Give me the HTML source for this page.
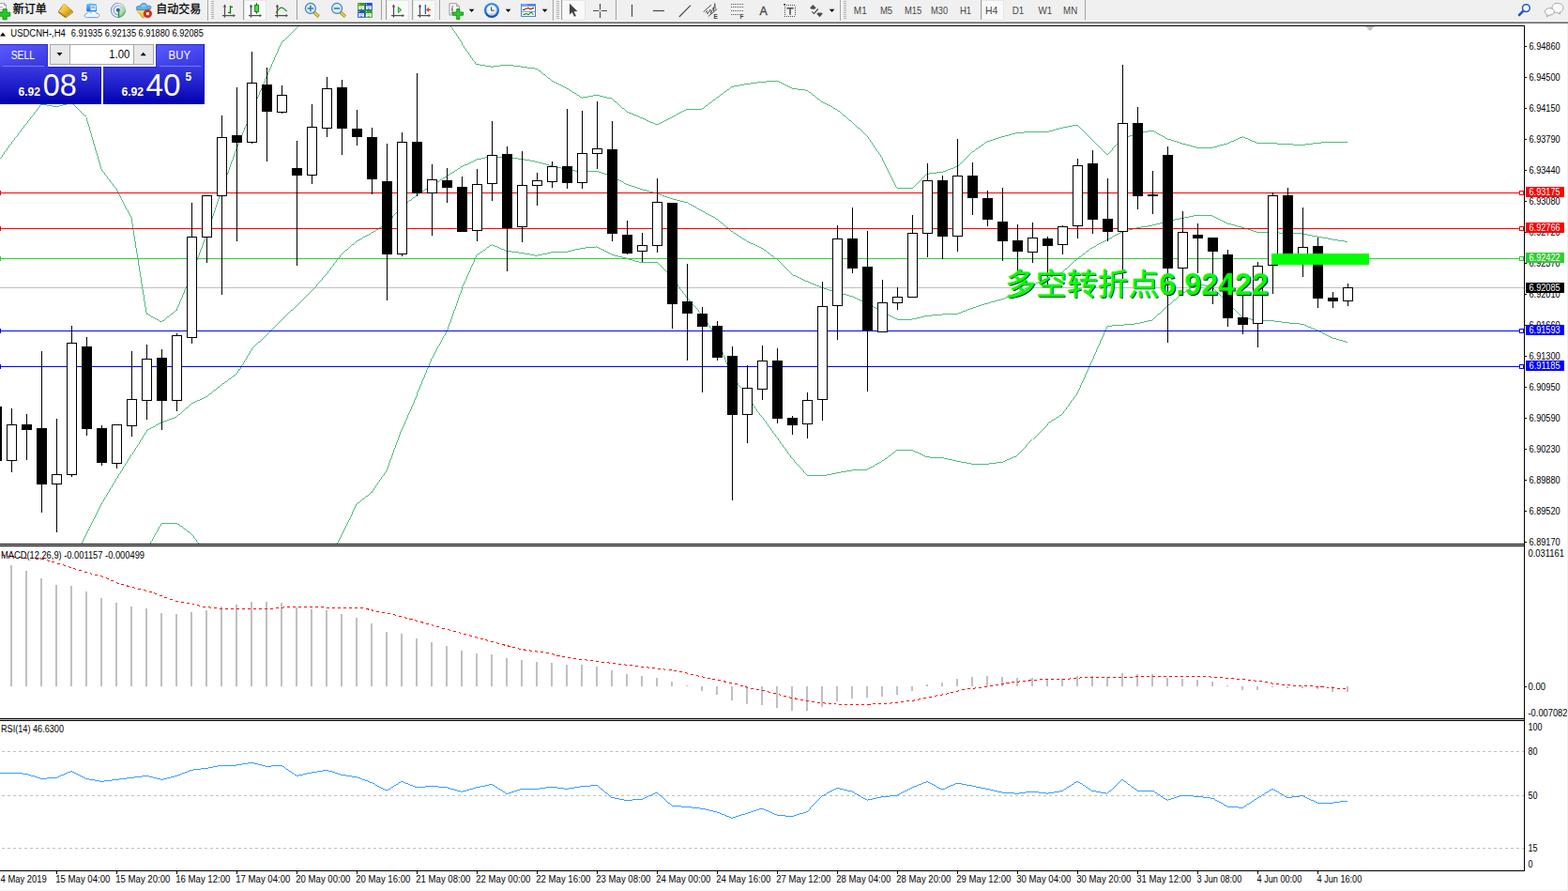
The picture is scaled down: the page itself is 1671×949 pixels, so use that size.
<!DOCTYPE html><html><head><meta charset="utf-8"><title>chart</title><style>
html,body{margin:0;padding:0;background:#fff}
body{width:1671px;height:949px;overflow:hidden;position:relative;font-family:"Liberation Sans",sans-serif}
#tb{position:absolute;left:0;top:0;width:1671px;height:25px;background:linear-gradient(#f0f0f0 0,#f0f0f0 22px,#f7f7f7 22px,#f7f7f7 23px,#a0a0a0 23px,#a0a0a0 24px,#696969 24px,#696969 25px)}
#re{position:absolute;left:1670px;top:25px;width:1px;height:924px;background:#f0f0f0}
#be{position:absolute;left:0;top:948px;width:1671px;height:1px;background:#f0f0f0}

</style></head><body>
<div id="tb"></div>
<svg id="chart" width="1671" height="949" viewBox="0 0 1671 949" style="position:absolute;left:0;top:0">
<defs><clipPath id="cm"><rect x="0" y="28" width="1624" height="551"/></clipPath><clipPath id="c2"><rect x="0" y="582" width="1624" height="183"/></clipPath><clipPath id="c3"><rect x="0" y="768" width="1624" height="159"/></clipPath></defs>
<g shape-rendering="crispEdges" fill="#000">
<rect x="0" y="27" width="1625" height="1"/>
<rect x="1624" y="27" width="1" height="901"/>
<rect x="0" y="579" width="1625" height="1"/>
<rect x="0" y="581" width="1625" height="1"/>
<rect x="0" y="765" width="1625" height="1"/>
<rect x="0" y="767" width="1625" height="1"/>
<rect x="0" y="927" width="1625" height="1"/>
</g>
<g shape-rendering="crispEdges" fill="#c8c8c8"><rect x="0" y="580" width="1624" height="1"/><rect x="0" y="766" width="1624" height="1"/></g>
<g clip-path="url(#cm)">
<rect x="0" y="306" width="1624" height="1" fill="#c0c0c0" shape-rendering="crispEdges"/>
<polyline points="-3.5,175.0 12.5,152.4 28.5,131.8 44.5,111.0 60.5,113.8 76.5,109.5 92.5,124.5 108.5,179.5 124.5,200.9 140.5,232.6 156.5,334.0 172.5,342.9 188.5,330.5 204.5,292.6 220.5,250.3 236.5,202.8 252.5,158.3 268.5,119.0 284.5,81.7 300.5,45.3 316.5,30.2 332.5,10.0 348.5,-20.0 364.5,-20.0 380.5,-20.0 396.5,-20.0 412.5,-20.0 428.5,-20.0 444.5,-20.0 460.5,-5.0 476.5,21.5 492.5,45.5 508.5,68.5 524.5,71.2 540.5,69.1 556.5,71.2 572.5,73.3 588.5,85.9 604.5,93.9 620.5,104.2 636.5,101.3 652.5,105.1 668.5,119.0 684.5,125.8 700.5,133.1 716.5,124.9 732.5,116.3 748.5,116.3 764.5,104.2 780.5,92.4 796.5,89.5 812.5,87.4 828.5,86.2 844.5,94.2 860.5,96.3 876.5,108.6 892.5,116.9 908.5,130.2 924.5,144.9 940.5,168.5 956.5,200.1 972.5,200.4 988.5,185.3 1004.5,183.3 1020.5,177.4 1036.5,162.0 1052.5,150.8 1068.5,145.8 1084.5,141.4 1100.5,140.5 1116.5,140.5 1132.5,136.1 1148.5,133.1 1164.5,149.3 1180.5,164.7 1196.5,147.9 1212.5,142.0 1228.5,139.0 1244.5,147.9 1260.5,152.9 1276.5,157.3 1292.5,157.3 1308.5,152.9 1324.5,145.8 1340.5,152.3 1356.5,152.6 1372.5,153.8 1388.5,154.4 1404.5,152.3 1420.5,151.1 1436.5,151.1" fill="none" stroke="#3cb371" stroke-width="0.9" shape-rendering="crispEdges" transform="translate(-0.4,0)" />
<polyline points="76.5,600.8 92.5,568.8 108.5,536.8 124.5,510.2 140.5,484.3 156.5,458.5 172.5,450.0 188.5,444.1 204.5,430.0 220.5,422.5 236.5,410.0 252.5,398.2 268.5,371.5 284.5,357.4 300.5,341.2 316.5,325.5 332.5,310.4 348.5,291.7 364.5,270.8 380.5,257.0 396.5,248.2 412.5,238.0 428.5,220.6 444.5,208.0 460.5,197.6 476.5,187.8 492.5,177.6 508.5,170.0 524.5,166.5 540.5,167.9 556.5,169.4 572.5,172.4 588.5,176.8 604.5,180.3 620.5,183.3 636.5,182.4 652.5,187.7 668.5,196.5 684.5,201.8 700.5,206.0 716.5,211.9 732.5,215.7 748.5,224.6 764.5,233.4 780.5,246.7 796.5,257.0 812.5,264.4 828.5,276.2 844.5,292.4 860.5,299.8 876.5,306.4 892.5,311.4 908.5,315.8 924.5,323.2 940.5,332.0 956.5,340.0 972.5,340.0 988.5,336.4 1004.5,335.0 1020.5,334.4 1036.5,328.2 1052.5,323.2 1068.5,318.7 1084.5,312.0 1100.5,303.8 1116.5,296.3 1132.5,290.0 1148.5,275.6 1164.5,263.8 1180.5,255.4 1196.5,246.8 1212.5,242.7 1228.5,240.1 1244.5,235.8 1260.5,232.3 1276.5,229.1 1292.5,230.0 1308.5,238.0 1324.5,242.3 1340.5,247.2 1356.5,247.4 1372.5,248.9 1388.5,249.0 1404.5,252.1 1420.5,255.0 1436.5,257.5" fill="none" stroke="#3cb371" stroke-width="0.9" shape-rendering="crispEdges" transform="translate(-0.4,0)" />
<polyline points="156.5,586.0 172.5,557.6 188.5,557.0 204.5,568.8 220.5,590.0 236.5,620.0 252.5,640.0 268.5,640.0 284.5,640.0 300.5,640.0 316.5,640.0 332.5,640.0 348.5,603.0 364.5,570.0 380.5,537.0 396.5,524.5 412.5,501.0 428.5,457.4 444.5,420.5 460.5,382.2 476.5,352.7 492.5,307.5 508.5,271.8 524.5,260.8 540.5,267.3 556.5,269.4 572.5,272.3 588.5,268.8 604.5,268.2 620.5,264.4 636.5,262.9 652.5,271.2 668.5,275.3 684.5,280.0 700.5,279.1 716.5,295.3 732.5,317.3 748.5,335.0 764.5,360.0 780.5,401.3 796.5,420.5 812.5,444.0 828.5,466.2 844.5,488.3 860.5,506.0 876.5,506.9 892.5,503.7 908.5,501.0 924.5,500.1 940.5,491.3 956.5,479.5 972.5,479.5 988.5,486.9 1004.5,487.5 1020.5,491.3 1036.5,494.2 1052.5,494.2 1068.5,492.2 1084.5,485.4 1100.5,467.7 1116.5,451.5 1132.5,441.1 1148.5,419.0 1164.5,383.6 1180.5,347.4 1196.5,346.2 1212.5,344.7 1228.5,340.9 1244.5,326.1 1260.5,312.8 1276.5,302.3 1292.5,305.7 1308.5,321.7 1324.5,337.8 1340.5,341.8 1356.5,341.8 1372.5,343.8 1388.5,345.3 1404.5,352.1 1420.5,360.0 1436.5,364.5" fill="none" stroke="#3cb371" stroke-width="0.9" shape-rendering="crispEdges" transform="translate(-0.4,0)" />
<g shape-rendering="crispEdges">
<rect x="0" y="205" width="1624" height="1" fill="#ff0000"/>
<rect x="0" y="203" width="1" height="5" fill="#ff0000"/>
<rect x="0" y="243" width="1624" height="1" fill="#ff0000"/>
<rect x="0" y="241" width="1" height="5" fill="#ff0000"/>
<rect x="0" y="275" width="1624" height="1" fill="#32cd32"/>
<rect x="0" y="273" width="1" height="5" fill="#32cd32"/>
<rect x="0" y="352" width="1624" height="1" fill="#0000ff"/>
<rect x="0" y="350" width="1" height="5" fill="#0000ff"/>
<rect x="0" y="390" width="1624" height="1" fill="#0000ff"/>
<rect x="0" y="388" width="1" height="5" fill="#0000ff"/>
</g>
<g shape-rendering="crispEdges">
<rect x="-4" y="433" width="1" height="58" fill="#000"/>
<rect x="-9" y="433" width="11" height="58" fill="#000"/>
<rect x="12" y="435" width="1" height="68" fill="#000"/>
<rect x="7" y="452" width="11" height="39" fill="#000"/>
<rect x="8" y="453" width="9" height="37" fill="#fff"/>
<rect x="28" y="441" width="1" height="49" fill="#000"/>
<rect x="23" y="452" width="11" height="6" fill="#000"/>
<rect x="44" y="374" width="1" height="172" fill="#000"/>
<rect x="39" y="456" width="11" height="60" fill="#000"/>
<rect x="60" y="446" width="1" height="121" fill="#000"/>
<rect x="55" y="505" width="11" height="11" fill="#000"/>
<rect x="56" y="506" width="9" height="9" fill="#fff"/>
<rect x="76" y="347" width="1" height="161" fill="#000"/>
<rect x="71" y="365" width="11" height="141" fill="#000"/>
<rect x="72" y="366" width="9" height="139" fill="#fff"/>
<rect x="92" y="359" width="1" height="105" fill="#000"/>
<rect x="87" y="369" width="11" height="88" fill="#000"/>
<rect x="108" y="453" width="1" height="43" fill="#000"/>
<rect x="103" y="456" width="11" height="37" fill="#000"/>
<rect x="124" y="452" width="1" height="47" fill="#000"/>
<rect x="119" y="452" width="11" height="42" fill="#000"/>
<rect x="120" y="453" width="9" height="40" fill="#fff"/>
<rect x="140" y="374" width="1" height="91" fill="#000"/>
<rect x="135" y="425" width="11" height="29" fill="#000"/>
<rect x="136" y="426" width="9" height="27" fill="#fff"/>
<rect x="156" y="367" width="1" height="80" fill="#000"/>
<rect x="151" y="382" width="11" height="45" fill="#000"/>
<rect x="152" y="383" width="9" height="43" fill="#fff"/>
<rect x="172" y="372" width="1" height="86" fill="#000"/>
<rect x="167" y="381" width="11" height="46" fill="#000"/>
<rect x="188" y="355" width="1" height="83" fill="#000"/>
<rect x="183" y="357" width="11" height="70" fill="#000"/>
<rect x="184" y="358" width="9" height="68" fill="#fff"/>
<rect x="204" y="216" width="1" height="150" fill="#000"/>
<rect x="199" y="252" width="11" height="108" fill="#000"/>
<rect x="200" y="253" width="9" height="106" fill="#fff"/>
<rect x="220" y="208" width="1" height="72" fill="#000"/>
<rect x="215" y="208" width="11" height="45" fill="#000"/>
<rect x="216" y="209" width="9" height="43" fill="#fff"/>
<rect x="236" y="123" width="1" height="191" fill="#000"/>
<rect x="231" y="146" width="11" height="63" fill="#000"/>
<rect x="232" y="147" width="9" height="61" fill="#fff"/>
<rect x="252" y="93" width="1" height="164" fill="#000"/>
<rect x="247" y="144" width="11" height="8" fill="#000"/>
<rect x="268" y="55" width="1" height="98" fill="#000"/>
<rect x="263" y="88" width="11" height="64" fill="#000"/>
<rect x="264" y="89" width="9" height="62" fill="#fff"/>
<rect x="284" y="72" width="1" height="100" fill="#000"/>
<rect x="279" y="90" width="11" height="29" fill="#000"/>
<rect x="300" y="91" width="1" height="30" fill="#000"/>
<rect x="295" y="101" width="11" height="19" fill="#000"/>
<rect x="296" y="102" width="9" height="17" fill="#fff"/>
<rect x="316" y="150" width="1" height="133" fill="#000"/>
<rect x="311" y="179" width="11" height="8" fill="#000"/>
<rect x="332" y="111" width="1" height="85" fill="#000"/>
<rect x="327" y="135" width="11" height="52" fill="#000"/>
<rect x="328" y="136" width="9" height="50" fill="#fff"/>
<rect x="348" y="82" width="1" height="64" fill="#000"/>
<rect x="343" y="94" width="11" height="43" fill="#000"/>
<rect x="344" y="95" width="9" height="41" fill="#fff"/>
<rect x="364" y="85" width="1" height="80" fill="#000"/>
<rect x="359" y="93" width="11" height="44" fill="#000"/>
<rect x="380" y="117" width="1" height="38" fill="#000"/>
<rect x="375" y="137" width="11" height="9" fill="#000"/>
<rect x="396" y="136" width="1" height="71" fill="#000"/>
<rect x="391" y="146" width="11" height="45" fill="#000"/>
<rect x="412" y="153" width="1" height="167" fill="#000"/>
<rect x="407" y="193" width="11" height="78" fill="#000"/>
<rect x="428" y="141" width="1" height="132" fill="#000"/>
<rect x="423" y="151" width="11" height="120" fill="#000"/>
<rect x="424" y="152" width="9" height="118" fill="#fff"/>
<rect x="444" y="78" width="1" height="131" fill="#000"/>
<rect x="439" y="151" width="11" height="55" fill="#000"/>
<rect x="460" y="175" width="1" height="76" fill="#000"/>
<rect x="455" y="191" width="11" height="15" fill="#000"/>
<rect x="456" y="192" width="9" height="13" fill="#fff"/>
<rect x="476" y="179" width="1" height="37" fill="#000"/>
<rect x="471" y="192" width="11" height="8" fill="#000"/>
<rect x="492" y="188" width="1" height="59" fill="#000"/>
<rect x="487" y="199" width="11" height="48" fill="#000"/>
<rect x="508" y="180" width="1" height="77" fill="#000"/>
<rect x="503" y="196" width="11" height="50" fill="#000"/>
<rect x="504" y="197" width="9" height="48" fill="#fff"/>
<rect x="524" y="129" width="1" height="85" fill="#000"/>
<rect x="519" y="165" width="11" height="31" fill="#000"/>
<rect x="520" y="166" width="9" height="29" fill="#fff"/>
<rect x="540" y="156" width="1" height="133" fill="#000"/>
<rect x="535" y="164" width="11" height="79" fill="#000"/>
<rect x="556" y="161" width="1" height="97" fill="#000"/>
<rect x="551" y="197" width="11" height="45" fill="#000"/>
<rect x="552" y="198" width="9" height="43" fill="#fff"/>
<rect x="572" y="184" width="1" height="35" fill="#000"/>
<rect x="567" y="192" width="11" height="6" fill="#000"/>
<rect x="568" y="193" width="9" height="4" fill="#fff"/>
<rect x="588" y="172" width="1" height="28" fill="#000"/>
<rect x="583" y="177" width="11" height="17" fill="#000"/>
<rect x="584" y="178" width="9" height="15" fill="#fff"/>
<rect x="604" y="116" width="1" height="85" fill="#000"/>
<rect x="599" y="177" width="11" height="18" fill="#000"/>
<rect x="620" y="118" width="1" height="83" fill="#000"/>
<rect x="615" y="163" width="11" height="32" fill="#000"/>
<rect x="616" y="164" width="9" height="30" fill="#fff"/>
<rect x="636" y="108" width="1" height="72" fill="#000"/>
<rect x="631" y="158" width="11" height="6" fill="#000"/>
<rect x="632" y="159" width="9" height="4" fill="#fff"/>
<rect x="652" y="129" width="1" height="128" fill="#000"/>
<rect x="647" y="159" width="11" height="90" fill="#000"/>
<rect x="668" y="235" width="1" height="36" fill="#000"/>
<rect x="663" y="250" width="11" height="20" fill="#000"/>
<rect x="684" y="248" width="1" height="31" fill="#000"/>
<rect x="679" y="261" width="11" height="7" fill="#000"/>
<rect x="680" y="262" width="9" height="5" fill="#fff"/>
<rect x="700" y="190" width="1" height="79" fill="#000"/>
<rect x="695" y="215" width="11" height="47" fill="#000"/>
<rect x="696" y="216" width="9" height="45" fill="#fff"/>
<rect x="716" y="216" width="1" height="134" fill="#000"/>
<rect x="711" y="216" width="11" height="108" fill="#000"/>
<rect x="732" y="281" width="1" height="103" fill="#000"/>
<rect x="727" y="321" width="11" height="13" fill="#000"/>
<rect x="748" y="327" width="1" height="91" fill="#000"/>
<rect x="743" y="334" width="11" height="14" fill="#000"/>
<rect x="764" y="342" width="1" height="42" fill="#000"/>
<rect x="759" y="347" width="11" height="34" fill="#000"/>
<rect x="780" y="369" width="1" height="164" fill="#000"/>
<rect x="775" y="379" width="11" height="63" fill="#000"/>
<rect x="796" y="389" width="1" height="83" fill="#000"/>
<rect x="791" y="413" width="11" height="29" fill="#000"/>
<rect x="792" y="414" width="9" height="27" fill="#fff"/>
<rect x="812" y="368" width="1" height="58" fill="#000"/>
<rect x="807" y="384" width="11" height="31" fill="#000"/>
<rect x="808" y="385" width="9" height="29" fill="#fff"/>
<rect x="828" y="371" width="1" height="80" fill="#000"/>
<rect x="823" y="384" width="11" height="62" fill="#000"/>
<rect x="844" y="443" width="1" height="20" fill="#000"/>
<rect x="839" y="445" width="11" height="8" fill="#000"/>
<rect x="860" y="418" width="1" height="49" fill="#000"/>
<rect x="855" y="426" width="11" height="26" fill="#000"/>
<rect x="856" y="427" width="9" height="24" fill="#fff"/>
<rect x="876" y="300" width="1" height="148" fill="#000"/>
<rect x="871" y="326" width="11" height="100" fill="#000"/>
<rect x="872" y="327" width="9" height="98" fill="#fff"/>
<rect x="892" y="240" width="1" height="122" fill="#000"/>
<rect x="887" y="254" width="11" height="72" fill="#000"/>
<rect x="888" y="255" width="9" height="70" fill="#fff"/>
<rect x="908" y="221" width="1" height="70" fill="#000"/>
<rect x="903" y="254" width="11" height="32" fill="#000"/>
<rect x="924" y="246" width="1" height="171" fill="#000"/>
<rect x="919" y="284" width="11" height="68" fill="#000"/>
<rect x="940" y="298" width="1" height="56" fill="#000"/>
<rect x="935" y="322" width="11" height="32" fill="#000"/>
<rect x="936" y="323" width="9" height="30" fill="#fff"/>
<rect x="956" y="306" width="1" height="24" fill="#000"/>
<rect x="951" y="316" width="11" height="7" fill="#000"/>
<rect x="952" y="317" width="9" height="5" fill="#fff"/>
<rect x="972" y="229" width="1" height="88" fill="#000"/>
<rect x="967" y="248" width="11" height="69" fill="#000"/>
<rect x="968" y="249" width="9" height="67" fill="#fff"/>
<rect x="988" y="174" width="1" height="100" fill="#000"/>
<rect x="983" y="192" width="11" height="57" fill="#000"/>
<rect x="984" y="193" width="9" height="55" fill="#fff"/>
<rect x="1004" y="187" width="1" height="89" fill="#000"/>
<rect x="999" y="192" width="11" height="60" fill="#000"/>
<rect x="1020" y="148" width="1" height="120" fill="#000"/>
<rect x="1015" y="187" width="11" height="65" fill="#000"/>
<rect x="1016" y="188" width="9" height="63" fill="#fff"/>
<rect x="1036" y="173" width="1" height="56" fill="#000"/>
<rect x="1031" y="187" width="11" height="24" fill="#000"/>
<rect x="1052" y="203" width="1" height="38" fill="#000"/>
<rect x="1047" y="211" width="11" height="23" fill="#000"/>
<rect x="1068" y="200" width="1" height="78" fill="#000"/>
<rect x="1063" y="236" width="11" height="21" fill="#000"/>
<rect x="1084" y="239" width="1" height="53" fill="#000"/>
<rect x="1079" y="256" width="11" height="12" fill="#000"/>
<rect x="1100" y="237" width="1" height="43" fill="#000"/>
<rect x="1095" y="253" width="11" height="16" fill="#000"/>
<rect x="1096" y="254" width="9" height="14" fill="#fff"/>
<rect x="1116" y="252" width="1" height="52" fill="#000"/>
<rect x="1111" y="254" width="11" height="8" fill="#000"/>
<rect x="1132" y="240" width="1" height="31" fill="#000"/>
<rect x="1127" y="241" width="11" height="20" fill="#000"/>
<rect x="1128" y="242" width="9" height="18" fill="#fff"/>
<rect x="1148" y="169" width="1" height="85" fill="#000"/>
<rect x="1143" y="176" width="11" height="65" fill="#000"/>
<rect x="1144" y="177" width="9" height="63" fill="#fff"/>
<rect x="1164" y="160" width="1" height="89" fill="#000"/>
<rect x="1159" y="174" width="11" height="60" fill="#000"/>
<rect x="1180" y="190" width="1" height="67" fill="#000"/>
<rect x="1175" y="233" width="11" height="14" fill="#000"/>
<rect x="1196" y="69" width="1" height="228" fill="#000"/>
<rect x="1191" y="131" width="11" height="116" fill="#000"/>
<rect x="1192" y="132" width="9" height="114" fill="#fff"/>
<rect x="1212" y="114" width="1" height="109" fill="#000"/>
<rect x="1207" y="131" width="11" height="78" fill="#000"/>
<rect x="1228" y="182" width="1" height="46" fill="#000"/>
<rect x="1223" y="207" width="11" height="2" fill="#000"/>
<rect x="1244" y="156" width="1" height="209" fill="#000"/>
<rect x="1239" y="165" width="11" height="121" fill="#000"/>
<rect x="1260" y="225" width="1" height="90" fill="#000"/>
<rect x="1255" y="247" width="11" height="39" fill="#000"/>
<rect x="1256" y="248" width="9" height="37" fill="#fff"/>
<rect x="1276" y="238" width="1" height="53" fill="#000"/>
<rect x="1271" y="250" width="11" height="4" fill="#000"/>
<rect x="1292" y="253" width="1" height="71" fill="#000"/>
<rect x="1287" y="253" width="11" height="15" fill="#000"/>
<rect x="1308" y="266" width="1" height="82" fill="#000"/>
<rect x="1303" y="271" width="11" height="68" fill="#000"/>
<rect x="1324" y="312" width="1" height="44" fill="#000"/>
<rect x="1319" y="338" width="11" height="8" fill="#000"/>
<rect x="1340" y="279" width="1" height="91" fill="#000"/>
<rect x="1335" y="283" width="11" height="62" fill="#000"/>
<rect x="1336" y="284" width="9" height="60" fill="#fff"/>
<rect x="1356" y="205" width="1" height="108" fill="#000"/>
<rect x="1351" y="208" width="11" height="75" fill="#000"/>
<rect x="1352" y="209" width="9" height="73" fill="#fff"/>
<rect x="1372" y="200" width="1" height="76" fill="#000"/>
<rect x="1367" y="208" width="11" height="68" fill="#000"/>
<rect x="1388" y="221" width="1" height="74" fill="#000"/>
<rect x="1383" y="263" width="11" height="15" fill="#000"/>
<rect x="1384" y="264" width="9" height="13" fill="#fff"/>
<rect x="1404" y="253" width="1" height="75" fill="#000"/>
<rect x="1399" y="262" width="11" height="56" fill="#000"/>
<rect x="1420" y="311" width="1" height="17" fill="#000"/>
<rect x="1415" y="317" width="11" height="4" fill="#000"/>
<rect x="1436" y="302" width="1" height="24" fill="#000"/>
<rect x="1431" y="306" width="11" height="15" fill="#000"/>
<rect x="1432" y="307" width="9" height="13" fill="#fff"/>
</g>
<rect x="1355" y="270" width="104" height="12" fill="#00ff00" shape-rendering="crispEdges"/>
<polygon points="1455,28 1465,28 1460,33" fill="#c0c0c0"/>
</g>
<g shape-rendering="crispEdges">
<rect x="1619.5" y="203.5" width="4" height="4" fill="#fff" stroke="#ff0000" stroke-width="1"/>
<rect x="1619.5" y="241.5" width="4" height="4" fill="#fff" stroke="#ff0000" stroke-width="1"/>
<rect x="1619.5" y="273.5" width="4" height="4" fill="#fff" stroke="#32cd32" stroke-width="1"/>
<rect x="1619.5" y="350.5" width="4" height="4" fill="#fff" stroke="#0000ff" stroke-width="1"/>
<rect x="1619.5" y="388.5" width="4" height="4" fill="#fff" stroke="#0000ff" stroke-width="1"/>
</g>
<g id="bigtext">
<text x="1071.3" y="314" font-family="Liberation Sans, Noto Sans CJK SC, sans-serif" font-size="32" textLength="164" lengthAdjust="spacingAndGlyphs" fill="#123" transform="translate(1,1)">多空转折点</text>
<text x="1235.3" y="314" font-family="Liberation Sans, sans-serif" font-weight="bold" font-size="33" textLength="116.6" lengthAdjust="spacingAndGlyphs" fill="#123" transform="translate(1,1)">6.92422</text>
<text x="1071.3" y="314" font-family="Liberation Sans, Noto Sans CJK SC, sans-serif" font-size="32" textLength="164" lengthAdjust="spacingAndGlyphs" fill="#00ff00" stroke="#00ff00" stroke-width="0.6" stroke-linejoin="round" transform="translate(0,0)">多空转折点</text>
<text x="1235.3" y="314" font-family="Liberation Sans, sans-serif" font-weight="bold" font-size="33" textLength="116.6" lengthAdjust="spacingAndGlyphs" fill="#00ff00" transform="translate(0,0)">6.92422</text>
</g>
<g font-family="Liberation Sans, sans-serif" font-size="10" fill="#000">
<rect x="1625" y="49" width="2" height="1" fill="#000" shape-rendering="crispEdges"/>
<text x="1629.5" y="53" textLength="33.2" lengthAdjust="spacingAndGlyphs">6.94860</text>
<rect x="1625" y="82" width="2" height="1" fill="#000" shape-rendering="crispEdges"/>
<text x="1629.5" y="86" textLength="33.2" lengthAdjust="spacingAndGlyphs">6.94500</text>
<rect x="1625" y="115" width="2" height="1" fill="#000" shape-rendering="crispEdges"/>
<text x="1629.5" y="119" textLength="33.2" lengthAdjust="spacingAndGlyphs">6.94150</text>
<rect x="1625" y="148" width="2" height="1" fill="#000" shape-rendering="crispEdges"/>
<text x="1629.5" y="152" textLength="33.2" lengthAdjust="spacingAndGlyphs">6.93790</text>
<rect x="1625" y="181" width="2" height="1" fill="#000" shape-rendering="crispEdges"/>
<text x="1629.5" y="185" textLength="33.2" lengthAdjust="spacingAndGlyphs">6.93440</text>
<rect x="1625" y="214" width="2" height="1" fill="#000" shape-rendering="crispEdges"/>
<text x="1629.5" y="218" textLength="33.2" lengthAdjust="spacingAndGlyphs">6.93080</text>
<rect x="1625" y="247" width="2" height="1" fill="#000" shape-rendering="crispEdges"/>
<text x="1629.5" y="251" textLength="33.2" lengthAdjust="spacingAndGlyphs">6.92720</text>
<rect x="1625" y="280" width="2" height="1" fill="#000" shape-rendering="crispEdges"/>
<text x="1629.5" y="284" textLength="33.2" lengthAdjust="spacingAndGlyphs">6.92370</text>
<rect x="1625" y="313" width="2" height="1" fill="#000" shape-rendering="crispEdges"/>
<text x="1629.5" y="317" textLength="33.2" lengthAdjust="spacingAndGlyphs">6.92010</text>
<rect x="1625" y="346" width="2" height="1" fill="#000" shape-rendering="crispEdges"/>
<text x="1629.5" y="350" textLength="33.2" lengthAdjust="spacingAndGlyphs">6.91660</text>
<rect x="1625" y="379" width="2" height="1" fill="#000" shape-rendering="crispEdges"/>
<text x="1629.5" y="383" textLength="33.2" lengthAdjust="spacingAndGlyphs">6.91300</text>
<rect x="1625" y="412" width="2" height="1" fill="#000" shape-rendering="crispEdges"/>
<text x="1629.5" y="416" textLength="33.2" lengthAdjust="spacingAndGlyphs">6.90950</text>
<rect x="1625" y="445" width="2" height="1" fill="#000" shape-rendering="crispEdges"/>
<text x="1629.5" y="449" textLength="33.2" lengthAdjust="spacingAndGlyphs">6.90590</text>
<rect x="1625" y="478" width="2" height="1" fill="#000" shape-rendering="crispEdges"/>
<text x="1629.5" y="482" textLength="33.2" lengthAdjust="spacingAndGlyphs">6.90230</text>
<rect x="1625" y="511" width="2" height="1" fill="#000" shape-rendering="crispEdges"/>
<text x="1629.5" y="515" textLength="33.2" lengthAdjust="spacingAndGlyphs">6.89880</text>
<rect x="1625" y="544" width="2" height="1" fill="#000" shape-rendering="crispEdges"/>
<text x="1629.5" y="548" textLength="33.2" lengthAdjust="spacingAndGlyphs">6.89520</text>
<rect x="1625" y="577" width="2" height="1" fill="#000" shape-rendering="crispEdges"/>
<text x="1629.5" y="581" textLength="33.2" lengthAdjust="spacingAndGlyphs">6.89170</text>
<text x="1628.5" y="593" textLength="38.5" lengthAdjust="spacingAndGlyphs">0.031161</text>
<text x="1628.5" y="735" textLength="18.5" lengthAdjust="spacingAndGlyphs">0.00</text>
<text x="1628.5" y="763" textLength="42" lengthAdjust="spacingAndGlyphs">-0.007082</text>
<rect x="1625" y="731" width="2" height="1" fill="#000" shape-rendering="crispEdges"/>
<text x="1628.5" y="778" textLength="15" lengthAdjust="spacingAndGlyphs">100</text>
<text x="1628.5" y="804" textLength="10" lengthAdjust="spacingAndGlyphs">80</text>
<text x="1628.5" y="851" textLength="10" lengthAdjust="spacingAndGlyphs">50</text>
<text x="1628.5" y="907" textLength="10" lengthAdjust="spacingAndGlyphs">15</text>
<text x="1628.5" y="924" textLength="5" lengthAdjust="spacingAndGlyphs">0</text>
</g>
<g font-family="Liberation Sans, sans-serif" font-size="10" fill="#fff">
<rect x="1626" y="199" width="41" height="11" fill="#ff0000" shape-rendering="crispEdges"/>
<text x="1629.5" y="208" textLength="33.2" lengthAdjust="spacingAndGlyphs">6.93175</text>
<rect x="1626" y="237" width="41" height="11" fill="#ff0000" shape-rendering="crispEdges"/>
<text x="1629.5" y="246" textLength="33.2" lengthAdjust="spacingAndGlyphs">6.92766</text>
<rect x="1626" y="269" width="41" height="11" fill="#32cd32" shape-rendering="crispEdges"/>
<text x="1629.5" y="278" textLength="33.2" lengthAdjust="spacingAndGlyphs">6.92422</text>
<rect x="1626" y="301" width="41" height="11" fill="#000000" shape-rendering="crispEdges"/>
<text x="1629.5" y="310" textLength="33.2" lengthAdjust="spacingAndGlyphs">6.92085</text>
<rect x="1626" y="346" width="41" height="11" fill="#0000ff" shape-rendering="crispEdges"/>
<text x="1629.5" y="355" textLength="33.2" lengthAdjust="spacingAndGlyphs">6.91593</text>
<rect x="1626" y="384" width="41" height="11" fill="#0000ff" shape-rendering="crispEdges"/>
<text x="1629.5" y="393" textLength="33.2" lengthAdjust="spacingAndGlyphs">6.91185</text>
</g>
<g clip-path="url(#c2)">
<g shape-rendering="crispEdges" fill="#c0c0c0">
<rect x="11" y="602" width="2" height="129"/>
<rect x="27" y="608" width="2" height="123"/>
<rect x="43" y="616" width="2" height="115"/>
<rect x="59" y="623" width="2" height="108"/>
<rect x="75" y="624" width="2" height="107"/>
<rect x="91" y="630" width="2" height="101"/>
<rect x="107" y="637" width="2" height="94"/>
<rect x="123" y="642" width="2" height="89"/>
<rect x="139" y="646" width="2" height="85"/>
<rect x="155" y="648" width="2" height="83"/>
<rect x="171" y="653" width="2" height="78"/>
<rect x="187" y="654" width="2" height="77"/>
<rect x="203" y="652" width="2" height="79"/>
<rect x="219" y="650" width="2" height="81"/>
<rect x="235" y="646" width="2" height="85"/>
<rect x="251" y="644" width="2" height="87"/>
<rect x="267" y="641" width="2" height="90"/>
<rect x="283" y="641" width="2" height="90"/>
<rect x="299" y="642" width="2" height="89"/>
<rect x="315" y="647" width="2" height="84"/>
<rect x="331" y="649" width="2" height="82"/>
<rect x="347" y="650" width="2" height="81"/>
<rect x="363" y="654" width="2" height="77"/>
<rect x="379" y="658" width="2" height="73"/>
<rect x="395" y="664" width="2" height="67"/>
<rect x="411" y="673" width="2" height="58"/>
<rect x="427" y="675" width="2" height="56"/>
<rect x="443" y="680" width="2" height="51"/>
<rect x="459" y="684" width="2" height="47"/>
<rect x="475" y="688" width="2" height="43"/>
<rect x="491" y="693" width="2" height="38"/>
<rect x="507" y="696" width="2" height="35"/>
<rect x="523" y="697" width="2" height="34"/>
<rect x="539" y="701" width="2" height="30"/>
<rect x="555" y="703" width="2" height="28"/>
<rect x="571" y="705" width="2" height="26"/>
<rect x="587" y="706" width="2" height="25"/>
<rect x="603" y="708" width="2" height="23"/>
<rect x="619" y="708" width="2" height="23"/>
<rect x="635" y="710" width="2" height="21"/>
<rect x="651" y="714" width="2" height="17"/>
<rect x="667" y="718" width="2" height="13"/>
<rect x="683" y="720" width="2" height="11"/>
<rect x="699" y="722" width="2" height="9"/>
<rect x="715" y="726" width="2" height="5"/>
<rect x="731" y="730" width="2" height="1"/>
<rect x="747" y="731" width="2" height="5"/>
<rect x="763" y="731" width="2" height="9"/>
<rect x="779" y="731" width="2" height="15"/>
<rect x="795" y="731" width="2" height="19"/>
<rect x="811" y="731" width="2" height="20"/>
<rect x="827" y="731" width="2" height="23"/>
<rect x="843" y="731" width="2" height="26"/>
<rect x="859" y="731" width="2" height="26"/>
<rect x="875" y="731" width="2" height="22"/>
<rect x="891" y="731" width="2" height="16"/>
<rect x="907" y="731" width="2" height="13"/>
<rect x="923" y="731" width="2" height="12"/>
<rect x="939" y="731" width="2" height="11"/>
<rect x="955" y="731" width="2" height="9"/>
<rect x="971" y="731" width="2" height="5"/>
<rect x="987" y="729" width="2" height="2"/>
<rect x="1003" y="727" width="2" height="4"/>
<rect x="1019" y="723" width="2" height="8"/>
<rect x="1035" y="721" width="2" height="10"/>
<rect x="1051" y="720" width="2" height="11"/>
<rect x="1067" y="721" width="2" height="10"/>
<rect x="1083" y="722" width="2" height="9"/>
<rect x="1099" y="722" width="2" height="9"/>
<rect x="1115" y="723" width="2" height="8"/>
<rect x="1131" y="723" width="2" height="8"/>
<rect x="1147" y="720" width="2" height="11"/>
<rect x="1163" y="720" width="2" height="11"/>
<rect x="1179" y="721" width="2" height="10"/>
<rect x="1195" y="717" width="2" height="14"/>
<rect x="1211" y="718" width="2" height="13"/>
<rect x="1227" y="718" width="2" height="13"/>
<rect x="1243" y="722" width="2" height="9"/>
<rect x="1259" y="723" width="2" height="8"/>
<rect x="1275" y="724" width="2" height="7"/>
<rect x="1291" y="726" width="2" height="5"/>
<rect x="1307" y="730" width="2" height="1"/>
<rect x="1323" y="731" width="2" height="4"/>
<rect x="1339" y="731" width="2" height="4"/>
<rect x="1355" y="731" width="2" height="1"/>
<rect x="1371" y="731" width="2" height="2"/>
<rect x="1387" y="731" width="2" height="2"/>
<rect x="1403" y="731" width="2" height="3"/>
<rect x="1419" y="731" width="2" height="6"/>
<rect x="1435" y="731" width="2" height="6"/>
</g>
<polyline points="-4.0,591.5 5.0,592.0 47.7,596.1 62.8,600.4 94.2,610.4 110.6,614.5 125.7,621.2 140.7,625.5 160.8,630.5 175.9,636.3 188.5,640.6 203.6,642.6 216.1,646.1 236.2,648.4 289.0,648.4 299.0,647.1 316.7,646.6 387.0,647.6 402.0,651.4 418.8,654.4 447.8,662.2 475.4,670.2 495.5,675.3 510.6,679.8 530.7,685.3 555.8,691.6 586.0,696.1 601.0,699.9 633.7,704.2 676.5,709.2 724.2,715.0 744.3,720.0 764.4,724.3 782.0,728.0 802.1,733.6 812.6,735.1 825.1,738.6 842.7,743.1 860.3,746.4 875.4,748.7 893.0,750.2 925.7,750.2 950.8,748.9 973.4,746.1 991.0,742.4 1011.1,738.6 1026.2,734.6 1046.3,732.1 1066.4,728.8 1076.5,727.0 1111.6,723.5 1134.3,723.5 1159.4,721.3 1200.0,721.3 1228.2,720.3 1284.6,720.6 1312.7,722.6 1349.4,726.2 1357.8,728.5 1380.4,730.2 1408.6,731.3 1419.8,732.7 1436.5,733.6" fill="none" stroke="#ff0000" stroke-width="1" stroke-dasharray="3,3" shape-rendering="crispEdges"/>
</g>
<g clip-path="url(#c3)">
<line x1="2" y1="800.5" x2="1624" y2="800.5" stroke="#c0c0c0" stroke-width="1" stroke-dasharray="3,3" shape-rendering="crispEdges"/>
<line x1="2" y1="847.5" x2="1624" y2="847.5" stroke="#c0c0c0" stroke-width="1" stroke-dasharray="3,3" shape-rendering="crispEdges"/>
<line x1="2" y1="903.5" x2="1624" y2="903.5" stroke="#c0c0c0" stroke-width="1" stroke-dasharray="3,3" shape-rendering="crispEdges"/>
<polyline points="-3.5,824.3 12.5,823.0 28.5,824.3 44.5,829.4 60.5,828.4 76.5,821.3 92.5,829.4 108.5,832.4 124.5,830.4 140.5,828.4 156.5,826.4 172.5,830.4 188.5,826.4 204.5,820.3 220.5,818.3 236.5,815.3 252.5,815.0 268.5,812.3 284.5,816.3 300.5,815.3 316.5,826.4 332.5,823.0 348.5,820.3 364.5,825.3 380.5,827.7 396.5,833.7 412.5,842.1 428.5,832.4 444.5,838.8 460.5,837.4 476.5,838.8 492.5,843.4 508.5,838.8 524.5,835.4 540.5,845.5 556.5,840.4 572.5,840.4 588.5,838.1 604.5,840.4 620.5,837.7 636.5,836.4 652.5,849.5 668.5,852.5 684.5,851.2 700.5,844.1 716.5,858.2 732.5,859.5 748.5,861.2 764.5,864.9 780.5,871.3 796.5,866.2 812.5,861.2 828.5,868.2 844.5,869.6 860.5,864.6 876.5,847.8 892.5,839.4 908.5,843.1 924.5,852.2 940.5,848.8 956.5,847.1 972.5,838.8 988.5,832.4 1004.5,841.1 1020.5,834.1 1036.5,837.1 1052.5,840.4 1068.5,844.1 1084.5,845.2 1100.5,843.1 1116.5,845.2 1132.5,842.4 1148.5,832.2 1164.5,842.4 1180.5,845.2 1196.5,830.4 1212.5,842.1 1228.5,842.1 1244.5,852.3 1260.5,847.0 1276.5,848.4 1292.5,850.2 1308.5,859.0 1324.5,860.4 1340.5,850.2 1356.5,840.3 1372.5,849.5 1388.5,847.7 1404.5,855.1 1420.5,855.1 1436.5,853.0" fill="none" stroke="#1e90ff" stroke-width="0.9" shape-rendering="crispEdges" transform="translate(-0.4,0)" />
</g>
<g font-family="Liberation Sans, sans-serif" font-size="10" fill="#000">
<text x="11.3" y="38.6" textLength="58.6" lengthAdjust="spacingAndGlyphs">USDCNH-,H4</text>
<text x="75.8" y="38.6" textLength="141" lengthAdjust="spacingAndGlyphs">6.91935 6.92135 6.91880 6.92085</text>
<polygon points="0,38.5 6,38.5 3,34.5" fill="#000"/>
<text x="1" y="594.5" textLength="153" lengthAdjust="spacingAndGlyphs">MACD(12,26,9) -0.001157 -0.000499</text>
<text x="1" y="780" textLength="67" lengthAdjust="spacingAndGlyphs">RSI(14) 46.6300</text>
<rect x="-4" y="928" width="1" height="3" fill="#000" shape-rendering="crispEdges"/>
<text x="-4.7" y="940" textLength="54.5" lengthAdjust="spacingAndGlyphs">14 May 2019</text>
<rect x="60" y="928" width="1" height="3" fill="#000" shape-rendering="crispEdges"/>
<text x="59.3" y="940" textLength="58.0" lengthAdjust="spacingAndGlyphs">15 May 04:00</text>
<rect x="124" y="928" width="1" height="3" fill="#000" shape-rendering="crispEdges"/>
<text x="123.3" y="940" textLength="58.0" lengthAdjust="spacingAndGlyphs">15 May 20:00</text>
<rect x="188" y="928" width="1" height="3" fill="#000" shape-rendering="crispEdges"/>
<text x="187.3" y="940" textLength="58.0" lengthAdjust="spacingAndGlyphs">16 May 12:00</text>
<rect x="252" y="928" width="1" height="3" fill="#000" shape-rendering="crispEdges"/>
<text x="251.3" y="940" textLength="58.0" lengthAdjust="spacingAndGlyphs">17 May 04:00</text>
<rect x="316" y="928" width="1" height="3" fill="#000" shape-rendering="crispEdges"/>
<text x="315.3" y="940" textLength="58.0" lengthAdjust="spacingAndGlyphs">20 May 00:00</text>
<rect x="380" y="928" width="1" height="3" fill="#000" shape-rendering="crispEdges"/>
<text x="379.3" y="940" textLength="58.0" lengthAdjust="spacingAndGlyphs">20 May 16:00</text>
<rect x="444" y="928" width="1" height="3" fill="#000" shape-rendering="crispEdges"/>
<text x="443.3" y="940" textLength="58.0" lengthAdjust="spacingAndGlyphs">21 May 08:00</text>
<rect x="508" y="928" width="1" height="3" fill="#000" shape-rendering="crispEdges"/>
<text x="507.3" y="940" textLength="58.0" lengthAdjust="spacingAndGlyphs">22 May 00:00</text>
<rect x="572" y="928" width="1" height="3" fill="#000" shape-rendering="crispEdges"/>
<text x="571.3" y="940" textLength="58.0" lengthAdjust="spacingAndGlyphs">22 May 16:00</text>
<rect x="636" y="928" width="1" height="3" fill="#000" shape-rendering="crispEdges"/>
<text x="635.3" y="940" textLength="58.0" lengthAdjust="spacingAndGlyphs">23 May 08:00</text>
<rect x="700" y="928" width="1" height="3" fill="#000" shape-rendering="crispEdges"/>
<text x="699.3" y="940" textLength="58.0" lengthAdjust="spacingAndGlyphs">24 May 00:00</text>
<rect x="764" y="928" width="1" height="3" fill="#000" shape-rendering="crispEdges"/>
<text x="763.3" y="940" textLength="58.0" lengthAdjust="spacingAndGlyphs">24 May 16:00</text>
<rect x="828" y="928" width="1" height="3" fill="#000" shape-rendering="crispEdges"/>
<text x="827.3" y="940" textLength="58.0" lengthAdjust="spacingAndGlyphs">27 May 12:00</text>
<rect x="892" y="928" width="1" height="3" fill="#000" shape-rendering="crispEdges"/>
<text x="891.3" y="940" textLength="58.0" lengthAdjust="spacingAndGlyphs">28 May 04:00</text>
<rect x="956" y="928" width="1" height="3" fill="#000" shape-rendering="crispEdges"/>
<text x="955.3" y="940" textLength="58.0" lengthAdjust="spacingAndGlyphs">28 May 20:00</text>
<rect x="1020" y="928" width="1" height="3" fill="#000" shape-rendering="crispEdges"/>
<text x="1019.3" y="940" textLength="58.0" lengthAdjust="spacingAndGlyphs">29 May 12:00</text>
<rect x="1084" y="928" width="1" height="3" fill="#000" shape-rendering="crispEdges"/>
<text x="1083.3" y="940" textLength="58.0" lengthAdjust="spacingAndGlyphs">30 May 04:00</text>
<rect x="1148" y="928" width="1" height="3" fill="#000" shape-rendering="crispEdges"/>
<text x="1147.3" y="940" textLength="58.0" lengthAdjust="spacingAndGlyphs">30 May 20:00</text>
<rect x="1212" y="928" width="1" height="3" fill="#000" shape-rendering="crispEdges"/>
<text x="1211.3" y="940" textLength="58.0" lengthAdjust="spacingAndGlyphs">31 May 12:00</text>
<rect x="1276" y="928" width="1" height="3" fill="#000" shape-rendering="crispEdges"/>
<text x="1275.6" y="940" textLength="47.6" lengthAdjust="spacingAndGlyphs">3 Jun 08:00</text>
<rect x="1340" y="928" width="1" height="3" fill="#000" shape-rendering="crispEdges"/>
<text x="1339.6" y="940" textLength="47.6" lengthAdjust="spacingAndGlyphs">4 Jun 00:00</text>
<rect x="1404" y="928" width="1" height="3" fill="#000" shape-rendering="crispEdges"/>
<text x="1403.6" y="940" textLength="47.6" lengthAdjust="spacingAndGlyphs">4 Jun 16:00</text>
</g>
</svg>
<svg id="tbs" width="1671" height="23" viewBox="0 0 1671 23" style="position:absolute;left:0;top:0">
<defs>
<linearGradient id="gold" x1="0" y1="0" x2="1" y2="1"><stop offset="0" stop-color="#ffe680"/><stop offset="0.5" stop-color="#f0c030"/><stop offset="1" stop-color="#b07808"/></linearGradient>
<linearGradient id="blu" x1="0" y1="0" x2="0" y2="1"><stop offset="0" stop-color="#7ac8ff"/><stop offset="1" stop-color="#1878e0"/></linearGradient>
<linearGradient id="lens" x1="0" y1="0" x2="0" y2="1"><stop offset="0" stop-color="#d8ecff"/><stop offset="1" stop-color="#8cc0f0"/></linearGradient>
<linearGradient id="yel" x1="0" y1="0" x2="0" y2="1"><stop offset="0" stop-color="#fff08a"/><stop offset="1" stop-color="#f0b020"/></linearGradient>
<radialGradient id="clk" cx="0.4" cy="0.35" r="0.7"><stop offset="0" stop-color="#ffffff"/><stop offset="0.6" stop-color="#e8f0f8"/><stop offset="1" stop-color="#b8c8d8"/></radialGradient>
</defs>
<path d="M-3,3.5 H4.5 L6.5,5.5 V12.5 H-3 Z" fill="#fff" stroke="#909090" stroke-width="0.8"/>
<path d="M4.5,3.5 V5.5 H6.5" fill="none" stroke="#909090" stroke-width="0.8"/>
<rect x="-1" y="7" width="4" height="1" fill="#b0b0b0"/><rect x="-1" y="10" width="3" height="1" fill="#b0b0b0"/>
<path d="M3,9.7 H7.2 V13.2 H10.8 V17.2 H7.2 V20.8 H3 V17.2 H-1 V13.2 H3 Z" fill="#22cc22" stroke="#0c8c0c" stroke-width="0.9"/>
<text x="13.7" y="14.3" font-family="Liberation Sans, Noto Sans CJK SC, sans-serif" font-size="12" textLength="36" lengthAdjust="spacingAndGlyphs" fill="#000" stroke="#000" stroke-width="0.26">新订单</text>
<path d="M67.6,4.2 Q68.6,3.6 69.4,4.4 L77.8,12 Q78.2,13 77.4,13.8 L70.6,18.8 Q69.6,19.2 68.8,18.6 L62.2,13.4 Q61.6,12.6 62.4,11.8 Z" fill="#a06c10"/>
<path d="M67.4,4.6 Q68.4,3.8 69.2,4.6 L77,11.8 L69.4,17.2 L62.4,12 Q65.6,10 67.4,4.6 Z" fill="url(#gold)"/>
<path d="M70,17.6 L77.2,12.6" stroke="#f8e8a0" stroke-width="0.8"/>
<path d="M92.2,4.5 L96,3.4 L102.9,4.2 V12 H92.2 Z" fill="url(#blu)"/>
<rect x="96.5" y="6" width="5.5" height="5" fill="#d8ecff"/><rect x="97.5" y="7.4" width="3.5" height="1" fill="#3888e0"/>
<path d="M92.5,18.6 C89.5,18.6 89.3,14.8 92.3,14.6 C92.6,12.4 96,12 97,13.6 C98.2,11.2 102.6,11.6 102.8,14.2 C106.4,14 106.8,18.6 103.6,18.6 Z" fill="#f0f6ff" stroke="#6890c8" stroke-width="0.9"/>
<defs><linearGradient id="sg" x1="0.3" y1="0" x2="0.8" y2="1"><stop offset="0" stop-color="#e4efe0"/><stop offset="0.6" stop-color="#b4d8b0"/><stop offset="1" stop-color="#40a848"/></linearGradient></defs>
<path d="M126,3.3 A7.6,7.6 0 0 1 126,18.5 Z" fill="url(#sg)"/>
<g fill="none">
<path d="M126,3.3 A7.6,7.6 0 0 0 126,18.5" stroke="#5078d8" stroke-width="1.1" opacity="0.75"/>
<path d="M126,6 A4.9,4.9 0 0 0 126,15.8" stroke="#5078d8" stroke-width="1.1" opacity="0.7"/>
<path d="M126,3.3 A7.6,7.6 0 0 1 133.6,10.9" stroke="#9cb8c8" stroke-width="1" opacity="0.8"/>
<path d="M126,6 A4.9,4.9 0 0 1 130.9,10.9" stroke="#9cc0b8" stroke-width="1" opacity="0.8"/>
<path d="M133.6,10.9 A7.6,7.6 0 0 1 126,18.5" stroke="#3c9c50" stroke-width="1" opacity="0.8"/>
<circle cx="125.8" cy="10.7" r="2" fill="#2858cc" stroke="none"/>
<path d="M126.5,11 V18.8" stroke="#18a020" stroke-width="1.4"/>
</g>
<path d="M145.2,10.2 L160.8,9.2 L153.6,18.6 Q152.4,19.2 151.4,18.4 Z" fill="url(#yel)" stroke="#c89018" stroke-width="0.7"/>
<g transform="translate(0,0.6)">
<path d="M145.3,8.6 C144.6,6.4 147.6,5.4 149.4,6.2 C149.6,2 156.6,2 157,6 C159,5 161.6,5.6 160.8,7.8 C159.6,10.4 147,11.2 145.3,8.6 Z" fill="#62b4ec" stroke="#2480b4" stroke-width="0.8"/>
<path d="M150.4,6.4 C151,3.6 155.4,3.4 156,6.2 C154.4,7.2 152,7.2 150.4,6.4 Z" fill="#8cccf4"/>
</g>
<circle cx="157.4" cy="14.6" r="4.2" fill="#e02810" stroke="#b01808" stroke-width="0.6"/>
<rect x="155.9" y="13.1" width="3" height="3" fill="#fff"/>
<text x="166.3" y="14.3" font-family="Liberation Sans, Noto Sans CJK SC, sans-serif" font-size="12" textLength="48" lengthAdjust="spacingAndGlyphs" fill="#000" stroke="#000" stroke-width="0.26">自动交易</text>
<rect x="220" y="0" width="1" height="22" fill="#fafafa"/>
<rect x="221" y="0" width="1" height="22" fill="#a0a0a0" shape-rendering="crispEdges"/><rect x="222" y="0" width="1" height="22" fill="#fafafa" shape-rendering="crispEdges"/>
<rect x="225" y="1" width="3" height="1" fill="#b4b4b4" shape-rendering="crispEdges"/>
<rect x="225" y="3" width="3" height="1" fill="#b4b4b4" shape-rendering="crispEdges"/>
<rect x="225" y="5" width="3" height="1" fill="#b4b4b4" shape-rendering="crispEdges"/>
<rect x="225" y="7" width="3" height="1" fill="#b4b4b4" shape-rendering="crispEdges"/>
<rect x="225" y="9" width="3" height="1" fill="#b4b4b4" shape-rendering="crispEdges"/>
<rect x="225" y="11" width="3" height="1" fill="#b4b4b4" shape-rendering="crispEdges"/>
<rect x="225" y="13" width="3" height="1" fill="#b4b4b4" shape-rendering="crispEdges"/>
<rect x="225" y="15" width="3" height="1" fill="#b4b4b4" shape-rendering="crispEdges"/>
<rect x="225" y="17" width="3" height="1" fill="#b4b4b4" shape-rendering="crispEdges"/>
<rect x="225" y="19" width="3" height="1" fill="#b4b4b4" shape-rendering="crispEdges"/>
<g stroke="#505050" stroke-width="1.25" fill="none"><path d="M239.5,18.7 V5.6"/><path d="M237,16.6 H250"/></g>
<path d="M239.5,4.6 L237.8,7.6 L241.2,7.6 Z M251,16.6 L248.6,14.900000000000002 L248.6,18.3 Z" fill="#505050"/>
<path d="M245.5,6 V14.7 M245.5,7.4 H248 M243,13.4 H245.5" stroke="#088008" stroke-width="1.3" fill="none"/>
<rect x="259" y="0" width="1" height="21" fill="#a0a0a0"/>
<rect x="260.5" y="0.5" width="23" height="21" fill="#f9f9f9" stroke="#e6e6e6" stroke-width="1"/>
<g stroke="#505050" stroke-width="1.25" fill="none"><path d="M267.5,18.7 V5.6"/><path d="M265,16.6 H278"/></g>
<path d="M267.5,4.6 L265.8,7.6 L269.2,7.6 Z M279,16.6 L276.6,14.900000000000002 L276.6,18.3 Z" fill="#505050"/>
<path d="M273.5,3.2 V14.7" stroke="#088008" stroke-width="1.2"/><rect x="271.6" y="5.4" width="3.8" height="7.2" fill="#48e048" stroke="#088008" stroke-width="0.9"/>
<g stroke="#505050" stroke-width="1.25" fill="none"><path d="M295.5,18.7 V5.6"/><path d="M293,16.6 H306"/></g>
<path d="M295.5,4.6 L293.8,7.6 L297.2,7.6 Z M307,16.6 L304.6,14.900000000000002 L304.6,18.3 Z" fill="#505050"/>
<path d="M294.1,13.7 Q298,8 300.2,8.2 Q302.4,8.6 305.7,12.1" stroke="#208820" stroke-width="1.2" fill="none"/>
<rect x="316" y="0" width="1" height="21" fill="#a0a0a0" shape-rendering="crispEdges"/>
<path d="M334.6,13 L339.8,17.7" stroke="#a87818" stroke-width="3.2" stroke-linecap="butt"/>
<path d="M334.7,13 L339.7,17.6" stroke="#f0d438" stroke-width="1.8" stroke-linecap="butt"/>
<circle cx="330.90000000000003" cy="8.95" r="5.5" fill="#d4eefa" stroke="#3c7cc4" stroke-width="1.2"/>
<path d="M327.70000000000005,8.95 H334.1" stroke="#4484b4" stroke-width="1.7"/>
<path d="M330.90000000000003,5.75 V12.15" stroke="#4484b4" stroke-width="1.7"/>
<path d="M362.8,13 L368,17.7" stroke="#a87818" stroke-width="3.2" stroke-linecap="butt"/>
<path d="M362.9,13 L367.9,17.6" stroke="#f0d438" stroke-width="1.8" stroke-linecap="butt"/>
<circle cx="359.1" cy="8.95" r="5.5" fill="#d4eefa" stroke="#3c7cc4" stroke-width="1.2"/>
<path d="M355.90000000000003,8.95 H362.3" stroke="#4484b4" stroke-width="1.7"/>
<rect x="381.2" y="3" width="7.8" height="7.9" fill="#38a018"/>
<rect x="382.2" y="6.3" width="5.8" height="3.6" fill="#f8fbff"/>
<rect x="383.4" y="7.4" width="3.4" height="0.9" fill="#38a018" opacity="0.6"/>
<rect x="382.2" y="4" width="1" height="1" fill="#fff" opacity="0.8"/>
<rect x="384.4" y="9.2" width="1.4" height="1.2" fill="#38a018"/>
<rect x="389" y="3" width="7.8" height="7.9" fill="#2050d0"/>
<rect x="390" y="6.3" width="5.8" height="3.6" fill="#f8fbff"/>
<rect x="391.2" y="7.4" width="3.4" height="0.9" fill="#2050d0" opacity="0.6"/>
<rect x="390" y="4" width="1" height="1" fill="#fff" opacity="0.8"/>
<rect x="392.2" y="9.2" width="1.4" height="1.2" fill="#2050d0"/>
<rect x="381.2" y="10.9" width="7.8" height="7.9" fill="#2050d0"/>
<rect x="382.2" y="14.2" width="5.8" height="3.6" fill="#f8fbff"/>
<rect x="383.4" y="15.3" width="3.4" height="0.9" fill="#2050d0" opacity="0.6"/>
<rect x="382.2" y="11.9" width="1" height="1" fill="#fff" opacity="0.8"/>
<rect x="384.4" y="17.1" width="1.4" height="1.2" fill="#2050d0"/>
<rect x="389" y="10.9" width="7.8" height="7.9" fill="#38a018"/>
<rect x="390" y="14.2" width="5.8" height="3.6" fill="#f8fbff"/>
<rect x="391.2" y="15.3" width="3.4" height="0.9" fill="#38a018" opacity="0.6"/>
<rect x="390" y="11.9" width="1" height="1" fill="#fff" opacity="0.8"/>
<rect x="392.2" y="17.1" width="1.4" height="1.2" fill="#38a018"/>
<rect x="406" y="0" width="1" height="21" fill="#a0a0a0" shape-rendering="crispEdges"/>
<rect x="411" y="0" width="1" height="21" fill="#a0a0a0"/>
<rect x="412.5" y="0.5" width="23" height="21" fill="#f9f9f9" stroke="#e6e6e6" stroke-width="1"/>
<g stroke="#505050" stroke-width="1.25" fill="none"><path d="M419.5,18.7 V5.6"/><path d="M417,16.6 H430"/></g>
<path d="M419.5,4.6 L417.8,7.6 L421.2,7.6 Z M431,16.6 L428.6,14.900000000000002 L428.6,18.3 Z" fill="#505050"/>
<polygon points="424.4,7.6 424.4,13.6 427.9,10.6" fill="#70e070" stroke="#18a018" stroke-width="0.9"/>
<rect x="439" y="0" width="1" height="21" fill="#a0a0a0"/>
<rect x="440.5" y="0.5" width="23" height="21" fill="#f9f9f9" stroke="#e6e6e6" stroke-width="1"/>
<g stroke="#505050" stroke-width="1.25" fill="none"><path d="M447.5,18.7 V5.6"/><path d="M445,16.6 H458"/></g>
<path d="M447.5,4.6 L445.8,7.6 L449.2,7.6 Z M459,16.6 L456.6,14.900000000000002 L456.6,18.3 Z" fill="#505050"/>
<path d="M453.4,5 V15" stroke="#2060a0" stroke-width="1.3"/><path d="M459,10.4 H455 M457,8.4 L455,10.4 L457,12.4" stroke="#d04010" stroke-width="1.2" fill="none"/>
<rect x="468" y="0" width="1" height="21" fill="#a0a0a0" shape-rendering="crispEdges"/>
<path d="M479,3.8 H486.4 L489.4,6.8 V16 H479 Z" fill="#fff" stroke="#8c8c8c" stroke-width="0.9"/>
<path d="M486.4,3.8 V6.8 H489.4" fill="none" stroke="#8c8c8c" stroke-width="0.8"/>
<path d="M483.4,6.4 Q481.6,6.2 481.8,8.4 L482,13 Q482,14.6 480.6,14.4 M480.8,10 H483.2" stroke="#504838" stroke-width="0.8" fill="none"/>
<path d="M486.7,9.6 H489.8 V13 H493.6 V16.2 H489.8 V20.4 H486.7 V16.2 H482.6 V13 H486.7 Z" fill="#28d028" stroke="#0c8c0c" stroke-width="0.9"/>
<polygon points="499.8,9.8 505.4,9.8 502.6,13" fill="#000"/>
<defs><linearGradient id="ring" x1="0" y1="0" x2="0" y2="1"><stop offset="0" stop-color="#3c98f0"/><stop offset="1" stop-color="#0c4cb0"/></linearGradient></defs>
<circle cx="524" cy="11" r="8" fill="url(#ring)"/>
<circle cx="524" cy="11" r="5.8" fill="url(#clk)"/>
<path d="M523.6,7.4 V11.2 H526.6" stroke="#303030" stroke-width="1" fill="none"/>
<path d="M524,14.4 V15.4 M520.4,11 H519.6" stroke="#4890e0" stroke-width="0.8"/>
<polygon points="538.8,9.8 544.4,9.8 541.6,13" fill="#000"/>
<rect x="555.6" y="4.5" width="14.9" height="12.9" fill="#fff" stroke="#3c7cc8" stroke-width="1"/>
<rect x="555.1" y="4" width="15.9" height="2.8" fill="#4c8ce0"/>
<rect x="556" y="4.6" width="6" height="0.9" fill="#a8ccf8"/>
<rect x="555.6" y="11.9" width="14.9" height="0.9" fill="#5c94d8"/>
<path d="M557,10.4 H558.6 L560,9.2 H561.4 L562.4,8.6 H563.6 L564.6,9.6 H566.4 L567.6,8.6 H569" stroke="#a02010" stroke-width="1.1" fill="none"/>
<path d="M557.4,15.4 H559 L560.2,14.6 H561.4 L562.4,15.4 H563.6 L565.4,13.4 H566.4 L568.4,15.6" stroke="#18902c" stroke-width="1.1" fill="none"/>
<polygon points="577.8,9.8 583.4,9.8 580.6,13" fill="#000"/>
<rect x="589" y="0" width="1" height="22" fill="#a0a0a0" shape-rendering="crispEdges"/><rect x="590" y="0" width="1" height="22" fill="#fafafa" shape-rendering="crispEdges"/>
<rect x="593" y="1" width="3" height="1" fill="#b4b4b4" shape-rendering="crispEdges"/>
<rect x="593" y="3" width="3" height="1" fill="#b4b4b4" shape-rendering="crispEdges"/>
<rect x="593" y="5" width="3" height="1" fill="#b4b4b4" shape-rendering="crispEdges"/>
<rect x="593" y="7" width="3" height="1" fill="#b4b4b4" shape-rendering="crispEdges"/>
<rect x="593" y="9" width="3" height="1" fill="#b4b4b4" shape-rendering="crispEdges"/>
<rect x="593" y="11" width="3" height="1" fill="#b4b4b4" shape-rendering="crispEdges"/>
<rect x="593" y="13" width="3" height="1" fill="#b4b4b4" shape-rendering="crispEdges"/>
<rect x="593" y="15" width="3" height="1" fill="#b4b4b4" shape-rendering="crispEdges"/>
<rect x="593" y="17" width="3" height="1" fill="#b4b4b4" shape-rendering="crispEdges"/>
<rect x="593" y="19" width="3" height="1" fill="#b4b4b4" shape-rendering="crispEdges"/>
<rect x="598" y="0" width="1" height="21" fill="#a0a0a0"/>
<rect x="599.5" y="0.5" width="24" height="21" fill="#f9f9f9" stroke="#e6e6e6" stroke-width="1"/>
<path d="M607,3.8 L607,15.6 L609.8,13 L612,17.8 L613.8,17 L611.6,12.3 L615.4,12.1 Z" fill="#404040"/>
<path d="M639.5,4 V10.4 M639.5,12.6 V19 M632,11.5 H638.3 M640.7,11.5 H647" stroke="#4c4c4c" stroke-width="1.2"/>
<rect x="656" y="0" width="1" height="21" fill="#a0a0a0" shape-rendering="crispEdges"/>
<path d="M673.5,4.8 V17.8" stroke="#4c4c4c" stroke-width="1.25"/>
<path d="M695.8,11.5 H708" stroke="#4c4c4c" stroke-width="1.25"/>
<path d="M723.8,18 L736,5.7" stroke="#4c4c4c" stroke-width="1.2"/>
<g stroke="#4c4c4c" stroke-width="1" fill="none"><path d="M749.6,12.6 L758,5.2 M754.8,17.5 L764.2,9.7"/><path d="M751.5,13.5 L753.5,11.5 L754,15 L757,10 L757.6,14.4 L760.4,7.6 L760.6,12 L761.8,3.6 L762.4,9.6" stroke-width="0.8"/></g>
<text x="760.6" y="19.7" font-family="Liberation Sans, sans-serif" font-size="6.6" font-weight="bold" fill="#404040">E</text>
<rect x="779" y="4" width="1" height="1" fill="#505050" shape-rendering="crispEdges"/>
<rect x="781" y="4" width="1" height="1" fill="#505050" shape-rendering="crispEdges"/>
<rect x="783" y="4" width="1" height="1" fill="#505050" shape-rendering="crispEdges"/>
<rect x="785" y="4" width="1" height="1" fill="#505050" shape-rendering="crispEdges"/>
<rect x="787" y="4" width="1" height="1" fill="#505050" shape-rendering="crispEdges"/>
<rect x="789" y="4" width="1" height="1" fill="#505050" shape-rendering="crispEdges"/>
<rect x="791" y="4" width="1" height="1" fill="#505050" shape-rendering="crispEdges"/>
<rect x="779" y="7" width="1" height="1" fill="#505050" shape-rendering="crispEdges"/>
<rect x="781" y="7" width="1" height="1" fill="#505050" shape-rendering="crispEdges"/>
<rect x="783" y="7" width="1" height="1" fill="#505050" shape-rendering="crispEdges"/>
<rect x="785" y="7" width="1" height="1" fill="#505050" shape-rendering="crispEdges"/>
<rect x="787" y="7" width="1" height="1" fill="#505050" shape-rendering="crispEdges"/>
<rect x="789" y="7" width="1" height="1" fill="#505050" shape-rendering="crispEdges"/>
<rect x="791" y="7" width="1" height="1" fill="#505050" shape-rendering="crispEdges"/>
<rect x="779" y="11" width="1" height="1" fill="#505050" shape-rendering="crispEdges"/>
<rect x="781" y="11" width="1" height="1" fill="#505050" shape-rendering="crispEdges"/>
<rect x="783" y="11" width="1" height="1" fill="#505050" shape-rendering="crispEdges"/>
<rect x="785" y="11" width="1" height="1" fill="#505050" shape-rendering="crispEdges"/>
<rect x="787" y="11" width="1" height="1" fill="#505050" shape-rendering="crispEdges"/>
<rect x="789" y="11" width="1" height="1" fill="#505050" shape-rendering="crispEdges"/>
<rect x="791" y="11" width="1" height="1" fill="#505050" shape-rendering="crispEdges"/>
<rect x="779" y="15" width="1" height="1" fill="#505050" shape-rendering="crispEdges"/>
<rect x="781" y="15" width="1" height="1" fill="#505050" shape-rendering="crispEdges"/>
<rect x="783" y="15" width="1" height="1" fill="#505050" shape-rendering="crispEdges"/>
<rect x="785" y="15" width="1" height="1" fill="#505050" shape-rendering="crispEdges"/>
<rect x="787" y="15" width="1" height="1" fill="#505050" shape-rendering="crispEdges"/>
<text x="788.5" y="19.7" font-family="Liberation Sans, sans-serif" font-size="6.6" font-weight="bold" fill="#404040">F</text>
<text x="809.4" y="15.7" font-family="Liberation Sans, sans-serif" font-size="12.4" fill="#4c4c4c" stroke="#4c4c4c" stroke-width="0.35">A</text>
<rect x="836" y="5" width="1" height="1" fill="#505050"/><rect x="836" y="17" width="1" height="1" fill="#505050"/>
<rect x="838" y="5" width="1" height="1" fill="#505050"/><rect x="838" y="17" width="1" height="1" fill="#505050"/>
<rect x="840" y="5" width="1" height="1" fill="#505050"/><rect x="840" y="17" width="1" height="1" fill="#505050"/>
<rect x="842" y="5" width="1" height="1" fill="#505050"/><rect x="842" y="17" width="1" height="1" fill="#505050"/>
<rect x="844" y="5" width="1" height="1" fill="#505050"/><rect x="844" y="17" width="1" height="1" fill="#505050"/>
<rect x="846" y="5" width="1" height="1" fill="#505050"/><rect x="846" y="17" width="1" height="1" fill="#505050"/>
<rect x="836" y="7" width="1" height="1" fill="#505050"/><rect x="847" y="7" width="1" height="1" fill="#505050"/>
<rect x="836" y="9" width="1" height="1" fill="#505050"/><rect x="847" y="9" width="1" height="1" fill="#505050"/>
<rect x="836" y="11" width="1" height="1" fill="#505050"/><rect x="847" y="11" width="1" height="1" fill="#505050"/>
<rect x="836" y="13" width="1" height="1" fill="#505050"/><rect x="847" y="13" width="1" height="1" fill="#505050"/>
<rect x="836" y="15" width="1" height="1" fill="#505050"/><rect x="847" y="15" width="1" height="1" fill="#505050"/>
<rect x="835" y="4" width="2" height="1.4" fill="#404040"/>
<path d="M838.4,8.7 H845.7 M842.05,8.7 V15.8" stroke="#4c4c4c" stroke-width="1.5" fill="none"/>
<path d="M863.1,8.4 L866.4,5 L869.7,8.4 L868,9.7 H864.8 Z" fill="#4c4c4c"/>
<path d="M870.2,14.6 L871.8,13.4 H875.2 L876.8,14.6 L873.5,18.2 Z" fill="#4c4c4c"/>
<path d="M865.2,12.4 L867.6,14.5 L871.8,9.5" stroke="#4c4c4c" stroke-width="1.2" fill="none"/>
<polygon points="883.8,9.8 889.4,9.8 886.6,13" fill="#000"/>
<rect x="895" y="0" width="1" height="22" fill="#a0a0a0" shape-rendering="crispEdges"/><rect x="896" y="0" width="1" height="22" fill="#fafafa" shape-rendering="crispEdges"/>
<rect x="899" y="1" width="3" height="1" fill="#b4b4b4" shape-rendering="crispEdges"/>
<rect x="899" y="3" width="3" height="1" fill="#b4b4b4" shape-rendering="crispEdges"/>
<rect x="899" y="5" width="3" height="1" fill="#b4b4b4" shape-rendering="crispEdges"/>
<rect x="899" y="7" width="3" height="1" fill="#b4b4b4" shape-rendering="crispEdges"/>
<rect x="899" y="9" width="3" height="1" fill="#b4b4b4" shape-rendering="crispEdges"/>
<rect x="899" y="11" width="3" height="1" fill="#b4b4b4" shape-rendering="crispEdges"/>
<rect x="899" y="13" width="3" height="1" fill="#b4b4b4" shape-rendering="crispEdges"/>
<rect x="899" y="15" width="3" height="1" fill="#b4b4b4" shape-rendering="crispEdges"/>
<rect x="899" y="17" width="3" height="1" fill="#b4b4b4" shape-rendering="crispEdges"/>
<rect x="899" y="19" width="3" height="1" fill="#b4b4b4" shape-rendering="crispEdges"/>
<g font-family="Liberation Sans, sans-serif" font-size="10.5" fill="#484848">
<rect x="1045" y="0" width="1" height="21" fill="#a0a0a0"/>
<rect x="1046.5" y="0.5" width="23" height="21" fill="#f9f9f9" stroke="#e6e6e6" stroke-width="1"/>
<text x="909.8" y="14.9" textLength="13.9" lengthAdjust="spacingAndGlyphs">M1</text>
<text x="937.9" y="14.9" textLength="13.3" lengthAdjust="spacingAndGlyphs">M5</text>
<text x="963.9" y="14.9" textLength="18.3" lengthAdjust="spacingAndGlyphs">M15</text>
<text x="992.1" y="14.9" textLength="18.1" lengthAdjust="spacingAndGlyphs">M30</text>
<text x="1022.9" y="14.9" textLength="12.3" lengthAdjust="spacingAndGlyphs">H1</text>
<text x="1049.9" y="14.9" textLength="13.3" lengthAdjust="spacingAndGlyphs">H4</text>
<text x="1078.7" y="14.9" textLength="12.5" lengthAdjust="spacingAndGlyphs">D1</text>
<text x="1106.4" y="14.9" textLength="14.8" lengthAdjust="spacingAndGlyphs">W1</text>
<text x="1133.1" y="14.9" textLength="15.1" lengthAdjust="spacingAndGlyphs">MN</text>
</g>
<rect x="1156" y="0" width="1" height="21" fill="#a0a0a0" shape-rendering="crispEdges"/>
<path d="M1619,16 L1623.6,11.4" stroke="#2858c0" stroke-width="2.6" stroke-linecap="round"/>
<circle cx="1626.4" cy="8.6" r="3.9" fill="#f4f8ff" stroke="#2858c8" stroke-width="1.5"/>
<path d="M1656.5,4 C1660,2.4 1666,4 1666,8.4 C1666,11.5 1663.5,13 1662,13.2 L1662.6,15.2 L1660,13.5 C1656,13.5 1653.6,11.5 1654,8 C1654.2,6 1655.2,4.6 1656.5,4 Z" fill="#fafafa" stroke="#a8a8a8" stroke-width="1"/>
<path d="M1649.4,9 C1652.4,8 1656.6,9.4 1656.4,12.6 C1656.2,15 1653.6,16 1651.4,16 L1648.4,17.8 L1649,15.6 C1645.6,14.6 1645.4,10.4 1649.4,9 Z" fill="#fafafa" stroke="#a0a0a0" stroke-width="1"/>
</svg>
<svg id="panel" width="220" height="70" viewBox="0 46 220 70" style="position:absolute;left:0;top:46px">
<defs>
<linearGradient id="gTop" x1="0" y1="0" x2="0.6" y2="1"><stop offset="0" stop-color="#5c5cff"/><stop offset="1" stop-color="#3a3ae4"/></linearGradient>
<linearGradient id="gLow" x1="0" y1="0" x2="0" y2="1"><stop offset="0" stop-color="#3a3ae2"/><stop offset="0.55" stop-color="#1c1cc8"/><stop offset="1" stop-color="#0000ae"/></linearGradient>
</defs>
<rect x="0" y="47" width="218" height="64" fill="#fff"/>
<g shape-rendering="crispEdges">
<rect x="0" y="47" width="51" height="25" fill="url(#gTop)"/>
<rect x="166" y="47" width="52" height="25" fill="url(#gTop)"/>
<rect x="0" y="47" width="51" height="1" fill="#2a2ad0"/>
<rect x="166" y="47" width="52" height="1" fill="#2a2ad0"/>
<rect x="50" y="47" width="1" height="24" fill="#2a2ad0"/>
<rect x="166" y="47" width="1" height="24" fill="#2a2ad0"/>
<rect x="0" y="71" width="108" height="40" fill="url(#gLow)"/>
<rect x="110" y="71" width="108" height="40" fill="url(#gLow)"/>
<rect x="107" y="71" width="1" height="40" fill="#1515b8"/>
<rect x="217" y="47" width="1" height="64" fill="#1515b8"/>
<rect x="51" y="71" width="57" height="1" fill="#2020c8"/>
<rect x="110" y="71" width="57" height="1" fill="#2020c8"/>
<rect x="3" y="70" width="44" height="1" fill="#7878f4"/>
<rect x="170" y="70" width="44" height="1" fill="#7878f4"/>
<!-- volume box -->
<rect x="53.5" y="47.5" width="110" height="21" fill="#fff" stroke="#a9a9a9"/>
<rect x="54" y="48" width="20" height="20" fill="#e9e9e9"/>
<rect x="143" y="48" width="20" height="20" fill="#e9e9e9"/>
<rect x="74" y="48" width="1" height="20" fill="#a9a9a9"/>
<rect x="142" y="48" width="1" height="20" fill="#a9a9a9"/>
</g>
<polygon points="60.5,56 66.5,56 63.5,59.5" fill="#000"/>
<polygon points="149.7,59.3 155.7,59.3 152.7,55.8" fill="#000"/>
<g font-family="Liberation Sans, sans-serif" fill="#fff">
<text x="11.7" y="62.8" font-size="12" textLength="25.3" lengthAdjust="spacingAndGlyphs">SELL</text>
<text x="179.6" y="62.8" font-size="12" textLength="23.4" lengthAdjust="spacingAndGlyphs">BUY</text>
<text x="116.3" y="62.3" font-size="12" fill="#000" textLength="22" lengthAdjust="spacingAndGlyphs">1.00</text>
<text x="19.4" y="101.8" font-size="12" font-weight="bold" textLength="23.7" lengthAdjust="spacingAndGlyphs">6.92</text>
<text x="129.4" y="101.8" font-size="12" font-weight="bold" textLength="23.7" lengthAdjust="spacingAndGlyphs">6.92</text>
<text x="45.8" y="102" font-size="33" textLength="36" lengthAdjust="spacingAndGlyphs">08</text>
<text x="155.6" y="102" font-size="33" textLength="37" lengthAdjust="spacingAndGlyphs">40</text>
<text x="86.4" y="85.6" font-size="12" font-weight="bold" textLength="6.6" lengthAdjust="spacingAndGlyphs">5</text>
<text x="197.5" y="85.6" font-size="12" font-weight="bold" textLength="6.6" lengthAdjust="spacingAndGlyphs">5</text>
</g>
</svg>

<div id="re"></div><div id="be"></div>
</body></html>
